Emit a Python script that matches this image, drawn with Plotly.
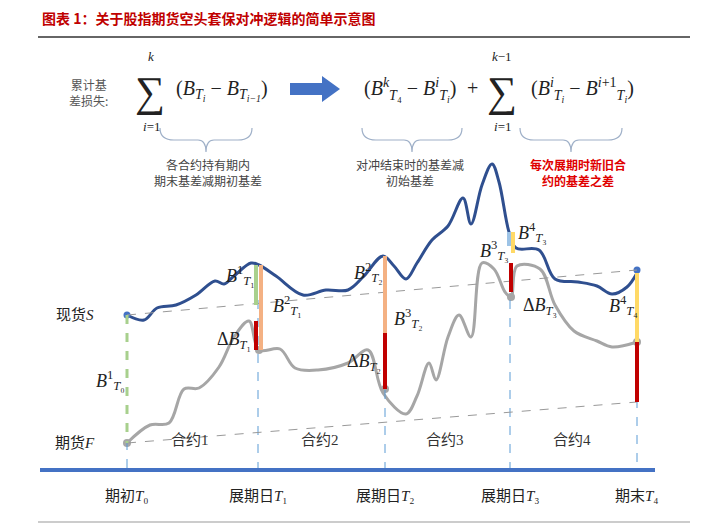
import plotly.graph_objects as go

# schematic coordinates (x: time position, y: screen-like level, inverted axis)
spot_x = [127, 144, 157, 176, 196, 215, 224, 234, 251, 259, 276, 303, 326, 348, 364, 383, 394, 406, 417,
          432, 448, 463, 471, 482, 492, 499, 509, 516, 539, 555, 578, 597, 612, 627, 637]
spot_y = [315, 320, 308, 305, 295, 281, 284, 276, 263, 265, 276, 295, 290, 290, 276, 256, 266, 279, 263,
          240, 226, 198, 224, 185, 164, 182, 232, 248, 250, 279, 282, 286, 294, 287, 273]
fut_x = [127, 150, 169, 184, 199, 219, 234, 249, 259, 280, 295, 318, 348, 368, 383, 406, 417, 429, 436,
         448, 459, 471, 482, 494, 505, 511, 517, 540, 555, 574, 597, 612, 637]
fut_y = [443, 425, 423, 389, 388, 367, 337, 321, 350, 349, 368, 370, 363, 350, 393, 414, 396, 363, 380,
         337, 315, 337, 263, 269, 292, 297, 266, 269, 305, 331, 341, 347, 342]
roll_x = [127, 258, 385, 510, 637]
roll_labels = ["期初<i>T</i>₀", "展期日<i>T</i>₁", "展期日<i>T</i>₂", "展期日<i>T</i>₃", "期末<i>T</i>₄"]
contracts = ["合约1", "合约2", "合约3", "合约4"]
contract_x = [190, 320, 445, 572]

# basis bars: (x, y0, y1, colour)
bars = [
    (127, 315, 443, "#a8d08d"),
    (256, 265, 305, "#a8d08d"), (256, 321, 350, "#c00000"), (261, 265, 350, "#f4b183"),
    (385, 256, 333, "#f4b183"), (385, 333, 389, "#c00000"),
    (509, 232, 246, "#9dc3e6"), (513, 232, 253, "#ffd966"), (511, 263, 292, "#c00000"),
    (637, 273, 342, "#ffd966"), (637, 342, 402, "#c00000"),
]

CJK = "Noto Sans CJK SC"
MATH = "Liberation Serif, Noto Sans CJK SC"

fig = go.Figure()

for x in roll_x:
    top = min(spot_y[spot_x.index(x)] if x in spot_x else 300, 470)
    fig.add_shape(type="line", x0=x, x1=x, y0=top, y1=470,
                  line=dict(color="#5b9bd5", width=1, dash="dash"))
fig.add_shape(type="line", x0=127, x1=637, y0=315, y1=270, line=dict(color="#999", width=1, dash="dash"))
fig.add_shape(type="line", x0=127, x1=637, y0=443, y1=402, line=dict(color="#999", width=1, dash="dash"))

for x, y0, y1, c in bars:
    dash = "dash" if x == 127 else "solid"
    fig.add_shape(type="line", x0=x, x1=x, y0=y0, y1=y1, line=dict(color=c, width=3 if x == 127 else 4, dash=dash))

fig.add_trace(go.Scatter(x=fut_x, y=fut_y, mode="lines", line=dict(color="#a6a6a6", width=3, shape="spline"),
                         hoverinfo="skip"))
fig.add_trace(go.Scatter(x=spot_x, y=spot_y, mode="lines", line=dict(color="#2f4f8f", width=3, shape="spline"),
                         hoverinfo="skip"))
fig.add_trace(go.Scatter(x=[127, 637], y=[315, 270], mode="markers", marker=dict(color="#4472c4", size=7)))
fig.add_trace(go.Scatter(x=[127, 259, 385, 511, 637], y=[443, 350, 389, 297, 342], mode="markers",
                         marker=dict(color="#a6a6a6", size=8)))

# axis, title rule, bottom rule
fig.add_shape(type="line", x0=40, x1=655, y0=470, y1=470, line=dict(color="#4472c4", width=4))
fig.add_shape(type="line", x0=38, x1=690, y0=37, y1=37, line=dict(color="#333", width=1.5))
fig.add_shape(type="line", x0=38, x1=690, y0=522, y1=522, line=dict(color="#999", width=1))

# blue arrow in formula
fig.add_shape(type="path", path="M 290 83 L 322 83 L 322 76 L 340 89 L 322 102 L 322 95 L 290 95 Z",
              fillcolor="#4472c4", line=dict(width=0))
# braces
for a, b in [(160, 252), (362, 462), (520, 622)]:
    m = (a + b) / 2
    fig.add_shape(type="path",
                  path=f"M {a} 128 Q {a} 140 {a+14} 140 L {m-8} 140 Q {m} 140 {m} 152 "
                       f"Q {m} 140 {m+8} 140 L {b-14} 140 Q {b} 140 {b} 128",
                  line=dict(color="#9fb0c8", width=1.2))

ann = []
def t(x, y, s, size=14, color="#222", font=MATH, xanchor="center"):
    ann.append(dict(x=x, y=y, text=s, showarrow=False, xanchor=xanchor,
                    font=dict(size=size, color=color, family=font)))

t(40, 18, "<b>图表 1：关于股指期货空头套保对冲逻辑的简单示意图</b>", 14, "#c00000", CJK, "left")
t(88, 92, "累计基<br>差损失:", 12, "#555", CJK)
t(150, 92, "∑", 42)
t(151, 56, "<i>k</i>", 13)
t(151, 126, "<i>i</i>=1", 13)
t(222, 90, "(<i>B</i><sub><i>T<sub>i</sub></i></sub> − <i>B</i><sub><i>T<sub>i−1</sub></i></sub>)", 20)
t(410, 90, "(<i>B</i><sup><i>k</i></sup><sub><i>T</i>₄</sub> − <i>B</i><sup><i>i</i></sup><sub><i>T<sub>i</sub></i></sub>)", 20)
t(472, 88, "+", 20)
t(502, 92, "∑", 42)
t(502, 56, "<i>k</i>−1", 13)
t(502, 126, "<i>i</i>=1", 13)
t(582, 90, "(<i>B</i><sup><i>i</i></sup><sub><i>T<sub>i</sub></i></sub> − <i>B</i><sup><i>i</i>+1</sup><sub><i>T<sub>i</sub></i></sub>)", 20)
t(208, 172, "各合约持有期内<br>期末基差减期初基差", 12, "#444", CJK)
t(410, 172, "对冲结束时的基差减<br>初始基差", 12, "#444", CJK)
t(578, 172, "<b>每次展期时新旧合<br>约的基差之差</b>", 12, "#e00000", CJK)

t(75, 315, "现货<i>S</i>", 15)
t(75, 443, "期货<i>F</i>", 15)
for x, s in zip(contract_x, contracts):
    t(x, 440, s, 15, "#333")
for x, s in zip(roll_x, roll_labels):
    t(x, 496, s, 15)

t(110, 380, "<i>B</i><sup>1</sup><sub><i>T</i>₀</sub>", 18)
t(240, 275, "<i>B</i><sup>1</sup><sub><i>T</i>₁</sub>", 18)
t(287, 305, "<i>B</i><sup>2</sup><sub><i>T</i>₁</sub>", 18)
t(234, 340, "Δ<i>B</i><sub><i>T</i>₁</sub>", 18)
t(368, 272, "<i>B</i><sup>2</sup><sub><i>T</i>₂</sub>", 18)
t(408, 318, "<i>B</i><sup>3</sup><sub><i>T</i>₂</sub>", 18)
t(364, 362, "Δ<i>B</i><sub><i>T</i>₂</sub>", 18)
t(494, 250, "<i>B</i><sup>3</sup><sub><i>T</i>₃</sub>", 18)
t(532, 232, "<i>B</i><sup>4</sup><sub><i>T</i>₃</sub>", 18)
t(540, 306, "Δ<i>B</i><sub><i>T</i>₃</sub>", 18)
t(623, 305, "<i>B</i><sup>4</sup><sub><i>T</i>₄</sub>", 18)

# page body adds an 8px offset; shift ranges so schematic positions land where intended
fig.update_layout(
    width=712, height=520, margin=dict(l=0, r=0, t=0, b=0),
    paper_bgcolor="white", plot_bgcolor="white", showlegend=False,
    xaxis=dict(range=[8, 720], visible=False, fixedrange=True),
    yaxis=dict(range=[528, 8], visible=False, fixedrange=True),
    annotations=ann,
)

fig.write_html("out.html")
